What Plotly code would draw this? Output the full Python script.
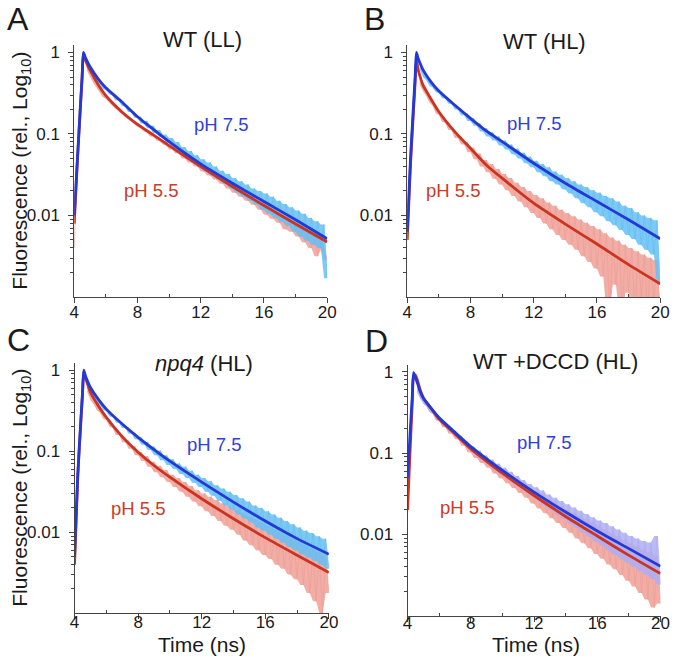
import plotly.graph_objects as go

# ---------------- data (log10 of relative fluorescence) ----------------
t_data = [round(4.0 + 0.2 * i, 1) for i in range(81)]  # 4.0 .. 20.0 ns sampling grid

a_blue_data = [-2.0, -1.3, -0.62, -0.01, -0.08, -0.17, -0.25, -0.28, -0.35, -0.38,
               -0.445, -0.46, -0.51, -0.53, -0.585, -0.59, -0.655, -0.665, -0.73, -0.73,
               -0.80, -0.79, -0.87, -0.84, -0.93, -0.90, -0.99, -0.95, -1.04, -1.01,
               -1.11, -1.05, -1.17, -1.10, -1.22, -1.16, -1.28, -1.21, -1.33, -1.26,
               -1.41, -1.31, -1.46, -1.35, -1.51, -1.40, -1.56, -1.45, -1.61, -1.49,
               -1.67, -1.54, -1.72, -1.58, -1.77, -1.62, -1.82, -1.67, -1.87, -1.70,
               -1.93, -1.73, -1.98, -1.77, -2.03, -1.82, -2.08, -1.86, -2.13, -1.90,
               -2.20, -1.94, -2.26, -1.98, -2.31, -2.03, -2.36, -2.07, -2.40, -2.11,
               -2.77]
a_red_data = [-2.4, -1.33, -0.64, -0.02, -0.1, -0.22, -0.30, -0.37, -0.43, -0.49,
              -0.545, -0.57, -0.61, -0.655, -0.69, -0.73, -0.76, -0.79, -0.82, -0.855,
              -0.88, -0.915, -0.93, -0.97, -0.985, -1.03, -1.035, -1.08, -1.09, -1.13,
              -1.14, -1.19, -1.19, -1.24, -1.24, -1.30, -1.29, -1.35, -1.34, -1.40,
              -1.39, -1.46, -1.44, -1.51, -1.49, -1.56, -1.54, -1.61, -1.59, -1.67,
              -1.63, -1.72, -1.68, -1.77, -1.72, -1.82, -1.77, -1.87, -1.82, -1.93,
              -1.86, -1.99, -1.91, -2.04, -1.95, -2.09, -2.00, -2.17, -2.04, -2.20,
              -2.08, -2.26, -2.11, -2.33, -2.17, -2.40, -2.21, -2.50, -2.26, -2.42,
              -2.55]
b_blue_data = [-2.2, -1.3, -0.63, -0.01, -0.11, -0.21, -0.30, -0.34, -0.41, -0.43,
               -0.485, -0.50, -0.56, -0.565, -0.63, -0.63, -0.70, -0.69, -0.77, -0.75,
               -0.84, -0.81, -0.90, -0.87, -0.97, -0.93, -1.03, -0.98, -1.08, -1.03,
               -1.14, -1.08, -1.19, -1.13, -1.25, -1.18, -1.30, -1.23, -1.36, -1.28,
               -1.41, -1.33, -1.47, -1.37, -1.52, -1.41, -1.58, -1.46, -1.62, -1.50,
               -1.68, -1.54, -1.73, -1.58, -1.79, -1.62, -1.85, -1.65, -1.90, -1.69,
               -1.96, -1.72, -2.01, -1.76, -2.07, -1.79, -2.12, -1.83, -2.18, -1.88,
               -2.24, -1.91, -2.29, -1.96, -2.36, -2.00, -2.42, -2.03, -2.48, -2.06,
               -2.85]
b_red_data = [-2.3, -1.35, -0.7, -0.1, -0.29, -0.40, -0.48, -0.535, -0.615, -0.655,
              -0.745, -0.77, -0.85, -0.865, -0.95, -0.95, -1.05, -1.03, -1.13, -1.10,
              -1.22, -1.17, -1.31, -1.24, -1.40, -1.32, -1.47, -1.37, -1.55, -1.43,
              -1.62, -1.49, -1.69, -1.54, -1.76, -1.60, -1.83, -1.65, -1.90, -1.70,
              -1.97, -1.75, -2.03, -1.79, -2.10, -1.84, -2.17, -1.88, -2.24, -1.93,
              -2.30, -1.97, -2.36, -2.01, -2.42, -2.05, -2.50, -2.09, -2.57, -2.13,
              -2.65, -2.17, -2.75, -2.22, -3.2, -2.27, -2.85, -2.31, -3.2, -2.36,
              -2.95, -2.40, -3.2, -2.44, -3.0, -2.48, -3.2, -2.52, -3.05, -2.55,
              -3.2]
c_blue_data = [-2.3, -1.25, -0.6, -0.01, -0.1, -0.21, -0.30, -0.34, -0.41, -0.43,
               -0.49, -0.51, -0.57, -0.58, -0.645, -0.65, -0.715, -0.715, -0.785, -0.775,
               -0.855, -0.83, -0.92, -0.885, -0.985, -0.94, -1.05, -0.99, -1.11, -1.05,
               -1.17, -1.10, -1.22, -1.15, -1.28, -1.19, -1.33, -1.24, -1.39, -1.29,
               -1.44, -1.33, -1.50, -1.37, -1.55, -1.42, -1.61, -1.46, -1.67, -1.50,
               -1.72, -1.54, -1.78, -1.58, -1.83, -1.62, -1.88, -1.67, -1.94, -1.70,
               -1.98, -1.74, -2.03, -1.78, -2.08, -1.82, -2.13, -1.86, -2.18, -1.90,
               -2.22, -1.94, -2.27, -1.98, -2.31, -2.01, -2.35, -2.05, -2.40, -2.08,
               -2.45]
c_red_data = [-2.4, -1.3, -0.65, -0.02, -0.16, -0.27, -0.37, -0.42, -0.495, -0.525,
              -0.60, -0.615, -0.70, -0.71, -0.80, -0.80, -0.89, -0.87, -0.97, -0.94,
              -1.05, -1.01, -1.12, -1.06, -1.19, -1.13, -1.26, -1.18, -1.32, -1.23,
              -1.38, -1.29, -1.44, -1.33, -1.50, -1.38, -1.56, -1.43, -1.62, -1.48,
              -1.68, -1.52, -1.74, -1.56, -1.80, -1.60, -1.86, -1.64, -1.92, -1.68,
              -1.97, -1.72, -2.03, -1.76, -2.10, -1.80, -2.16, -1.84, -2.22, -1.88,
              -2.28, -1.92, -2.33, -1.96, -2.40, -2.00, -2.45, -2.04, -2.52, -2.08,
              -2.58, -2.12, -2.65, -2.16, -2.75, -2.20, -2.85, -2.24, -3.0, -2.28,
              -2.75]
d_blue_data = [-1.4, -0.63, -0.01, -0.15, -0.25, -0.33, -0.39, -0.43, -0.49, -0.515,
               -0.58, -0.59, -0.655, -0.66, -0.73, -0.725, -0.80, -0.79, -0.875, -0.86,
               -0.95, -0.92, -1.01, -0.97, -1.08, -1.03, -1.14, -1.08, -1.20, -1.13,
               -1.26, -1.18, -1.31, -1.23, -1.37, -1.28, -1.42, -1.33, -1.48, -1.38,
               -1.53, -1.42, -1.59, -1.46, -1.64, -1.51, -1.70, -1.55, -1.76, -1.59,
               -1.81, -1.63, -1.87, -1.67, -1.92, -1.71, -1.98, -1.75, -2.03, -1.79,
               -2.09, -1.83, -2.14, -1.86, -2.20, -1.90, -2.25, -1.94, -2.30, -1.98,
               -2.35, -2.02, -2.40, -2.05, -2.45, -2.08, -2.50, -2.10, -2.55, -2.02,
               -2.62]
d_red_data = [-1.7, -0.85, -0.05, -0.1, -0.22, -0.32, -0.39, -0.425, -0.495, -0.52,
              -0.60, -0.605, -0.68, -0.675, -0.76, -0.75, -0.83, -0.82, -0.91, -0.89,
              -0.99, -0.95, -1.06, -1.01, -1.12, -1.07, -1.18, -1.12, -1.25, -1.18,
              -1.31, -1.23, -1.37, -1.28, -1.43, -1.33, -1.49, -1.38, -1.55, -1.43,
              -1.62, -1.47, -1.68, -1.51, -1.74, -1.56, -1.80, -1.60, -1.86, -1.65,
              -1.92, -1.69, -1.98, -1.73, -2.05, -1.77, -2.11, -1.81, -2.17, -1.85,
              -2.24, -1.89, -2.30, -1.94, -2.37, -1.98, -2.43, -2.02, -2.50, -2.07,
              -2.57, -2.11, -2.64, -2.15, -2.72, -2.19, -2.80, -2.22, -2.90, -2.26,
              -2.85]

# fitted decay curves (log10)
t_fit_abc = [4.0, 4.2, 4.4, 4.5, 4.58, 4.7, 4.85, 5.0, 5.5, 6.0, 7.0, 8.0, 9.0,
             10.0, 12.0, 14.0, 16.0, 18.0, 20.0]
a_blue_fit = [-2.0, -1.31, -0.62, -0.29, 0.0, -0.06, -0.12, -0.175, -0.32, -0.433,
              -0.604, -0.788, -0.943, -1.094, -1.367, -1.604, -1.829, -2.053, -2.286]
a_red_fit = [-2.1, -1.33, -0.64, -0.3, -0.01, -0.09, -0.16, -0.216, -0.39, -0.53,
             -0.727, -0.882, -1.012, -1.143, -1.4, -1.645, -1.878, -2.106, -2.327]
b_blue_fit = [-2.2, -1.33, -0.63, -0.29, 0.0, -0.08, -0.15, -0.214, -0.36, -0.473,
              -0.645, -0.808, -0.963, -1.094, -1.359, -1.604, -1.829, -2.053, -2.286]
b_red_fit = [-2.3, -1.4, -0.7, -0.37, -0.094, -0.22, -0.32, -0.40, -0.57, -0.727,
             -0.971, -1.176, -1.38, -1.543, -1.849, -2.106, -2.351, -2.604, -2.84]
c_blue_fit = [-2.3, -1.3, -0.6, -0.28, 0.0, -0.08, -0.15, -0.213, -0.36, -0.48,
              -0.664, -0.828, -0.98, -1.123, -1.381, -1.627, -1.861, -2.078, -2.27]
c_red_fit = [-2.4, -1.33, -0.63, -0.31, -0.02, -0.1, -0.19, -0.275, -0.44, -0.582,
             -0.82, -1.012, -1.176, -1.32, -1.586, -1.832, -2.066, -2.283, -2.496]
t_fit_d = [4.0, 4.1, 4.2, 4.3, 4.38, 4.5, 4.65, 4.8, 5.0, 5.5, 6.0, 7.0, 8.0, 9.0,
           10.0, 12.0, 14.0, 16.0, 18.0, 20.0]
d_blue_fit = [-1.3, -0.97, -0.63, -0.3, -0.01, -0.07, -0.15, -0.24, -0.32, -0.45,
              -0.565, -0.744, -0.92, -1.07, -1.213, -1.479, -1.725, -1.958, -2.175, -2.393]
d_red_fit = [-1.7, -1.25, -0.8, -0.38, -0.06, -0.04, -0.12, -0.22, -0.32, -0.45,
             -0.58, -0.764, -0.948, -1.1, -1.247, -1.521, -1.779, -2.02, -2.258, -2.483]

panel_titles = ["WT (LL)", "WT (HL)", "<i>npq4</i> (HL)", "WT +DCCD (HL)"]
panel_letters = ["A", "B", "C", "D"]
x_ticks = [4, 8, 12, 16, 20]
y_ticks = [1, 0.1, 0.01]
y_tick_text = ["1", "0.1", "0.01"]

# ---------------- styling ----------------
W, H = 680, 665
FONT = "Arial, Liberation Sans, Helvetica, sans-serif"
BLUE_FIT = "#2438d8"
RED_FIT = "#cc3320"
BLUE_RAW = (102, 191, 243)
RED_RAW = (238, 160, 151)
LAV_RAW = (173, 174, 244)
TXT = "#1a1a1a"
AX = "#444444"


def rgba(c, a):
    return "rgba(%d,%d,%d,%.2f)" % (c[0], c[1], c[2], a)


def lin(v):
    return [10 ** x for x in v]


def px2x(p):
    return p / W


def px2y(p):
    return 1 - p / H


panels = [
    dict(xd=[70.7, 329.0], yd=[295.8, 43.3], t_fit=t_fit_abc, bd=a_blue_data, rd=a_red_data,
         bf=a_blue_fit, rf=a_red_fit, braw=BLUE_RAW, xstand=-5, b0=4),
    dict(xd=[410.7, 669.0], yd=[295.8, 43.3], t_fit=t_fit_abc, bd=b_blue_data, rd=b_red_data,
         bf=b_blue_fit, rf=b_red_fit, braw=BLUE_RAW, xstand=-5, b0=4),
    dict(xd=[71.0, 330.7], yd=[613.2, 362.0], t_fit=t_fit_abc, bd=c_blue_data, rd=c_red_data,
         bf=c_blue_fit, rf=c_red_fit, braw=BLUE_RAW, xstand=-12, b0=4),
    dict(xd=[411.0, 669.3], yd=[615.5, 363.7], t_fit=t_fit_d, bd=d_blue_data, rd=d_red_data,
         bf=d_blue_fit, rf=d_red_fit, braw=LAV_RAW, xstand=-13, b0=3),
]

fig = go.Figure()
minor_y = [m * 10 ** e for e in (-3, -2, -1) for m in range(2, 10)]


def add_noisy(vals, color, xa, ya, start):
    # light band spanning the scatter of the raw trace, then the raw trace itself
    n = len(vals)
    hi = [max(vals[i:i + 2]) for i in range(start, n)]
    lo = [min(vals[i:i + 2]) for i in range(start, n)]
    ts = t_data[start:]
    fig.add_trace(go.Scatter(x=ts + ts[::-1], y=lin(hi) + lin(lo[::-1]),
                             mode="lines", fill="toself", fillcolor=rgba(color, 0.85),
                             line=dict(width=0, color=rgba(color, 0)), xaxis=xa, yaxis=ya,
                             showlegend=False, hoverinfo="skip"))
    fig.add_trace(go.Scatter(x=t_data, y=lin(vals), mode="lines", xaxis=xa, yaxis=ya,
                             line=dict(color=rgba(color, 1), width=0.8), showlegend=False))


for i, p in enumerate(panels):
    n = "" if i == 0 else str(i + 1)
    xa, ya = "x" + n, "y" + n
    add_noisy(p["rd"], RED_RAW, xa, ya, p["b0"])
    add_noisy(p["bd"], p["braw"], xa, ya, p["b0"])
    fig.add_trace(go.Scatter(x=p["t_fit"], y=lin(p["rf"]), mode="lines", xaxis=xa, yaxis=ya,
                             line=dict(color=RED_FIT, width=2.8, shape="spline", smoothing=0.6),
                             showlegend=False))
    fig.add_trace(go.Scatter(x=p["t_fit"], y=lin(p["bf"]), mode="lines", xaxis=xa, yaxis=ya,
                             line=dict(color=BLUE_FIT, width=2.8, shape="spline", smoothing=0.6),
                             showlegend=False))

    xaxis = dict(domain=[px2x(p["xd"][0]), px2x(p["xd"][1])], range=[4, 20],
                 anchor=ya, showgrid=False, zeroline=False, showline=True,
                 linecolor=AX, linewidth=1, ticks="outside", ticklen=5, tickwidth=1,
                 tickcolor=AX, tickvals=x_ticks, ticklabelstandoff=p["xstand"],
                 tickfont=dict(family=FONT, size=17, color=TXT),
                 minor=dict(tickvals=[6, 10, 14, 18], ticks="inside", ticklen=3,
                            tickcolor=AX, showgrid=False))
    yaxis = dict(domain=[px2y(p["yd"][0]), px2y(p["yd"][1])], type="log",
                 range=[-3.0, 0.09], anchor=xa, showgrid=False, zeroline=False,
                 showline=True, linecolor=AX, linewidth=1, ticks="outside", ticklen=5,
                 tickwidth=1, tickcolor=AX, tickvals=y_ticks, ticktext=y_tick_text,
                 ticklabelstandoff=5,
                 tickfont=dict(family=FONT, size=17, color=TXT),
                 minor=dict(tickvals=minor_y, ticks="outside", ticklen=3, tickcolor=AX,
                            showgrid=False))
    fig.layout["xaxis" + n] = xaxis
    fig.layout["yaxis" + n] = yaxis

ann = []


def add_text(text, x, y, size, color=TXT, angle=0):
    ann.append(dict(text=text, x=px2x(x), y=px2y(y), xref="paper", yref="paper",
                    showarrow=False, xanchor="center", yanchor="middle", textangle=angle,
                    font=dict(family=FONT, size=size, color=color)))


# panel letters
for letter, (x, y) in zip(panel_letters, [(13.5, 17), (377.5, 17), (13.5, 339), (379, 340)]):
    add_text(letter, x, y, 32)
# panel titles
for title, (x, y) in zip(panel_titles, [(201.7, 38), (551, 40), (203, 363), (562.5, 361)]):
    add_text(title, x, y, 22)
# pH labels
ph_pos = [((221, 123), (149.5, 189.5)), ((540.8, 122), (457.5, 189.5)),
          ((214, 443.5), (136, 508.5)), ((550.5, 442), (472.5, 507))]
for (p75, p55) in ph_pos:
    add_text("pH 7.5", p75[0], p75[1], 18.5, "#3040dc")
    add_text("pH 5.5", p55[0], p55[1], 18.5, "#cc3b26")
# axis titles
ytitle = "Fluorescence (rel., Log<sub>10</sub>)"
add_text(ytitle, 16, 169.5, 21, angle=-90)
add_text(ytitle, 16, 487.5, 21, angle=-90)
add_text("Time (ns)", 200.8, 644, 21)
add_text("Time (ns)", 541.7, 644, 21)

fig.update_layout(width=W, height=H, margin=dict(l=0, r=0, t=0, b=0),
                  paper_bgcolor="white", plot_bgcolor="white", annotations=ann,
                  font=dict(family=FONT, color=TXT))

fig.write_html("out.html", config={"displayModeBar": False},
               post_script="document.body.style.margin='0px';document.body.style.overflow='hidden';")
